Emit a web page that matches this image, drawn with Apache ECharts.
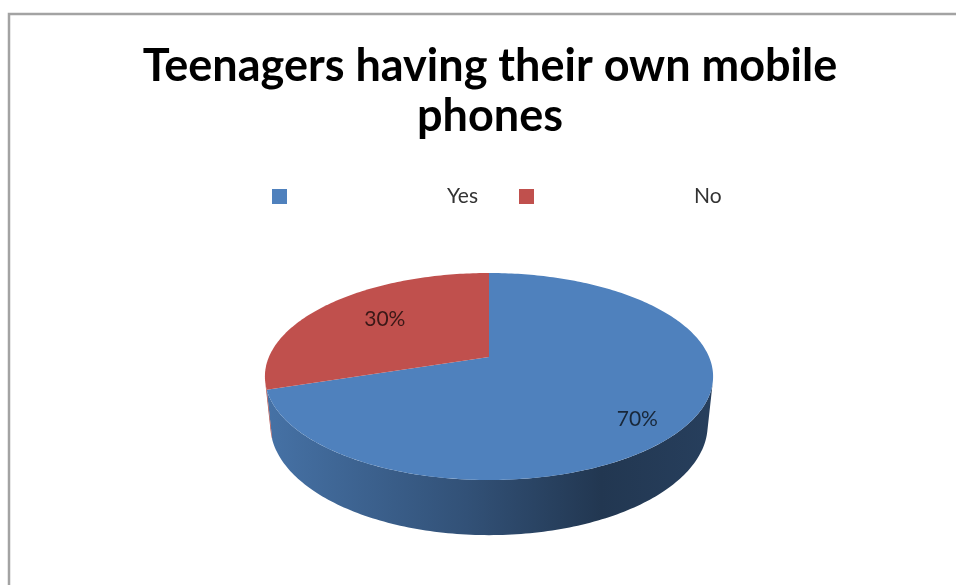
<!DOCTYPE html>
<html>
<head>
<meta charset="utf-8">
<script src="https://cdn.jsdelivr.net/npm/echarts@6/dist/echarts.min.js"></script>
<style>
    html, body { margin: 0; padding: 0; background: #fff; }
    #main { width: 956px; height: 585px; }
</style>
</head>
<body>
<div id="main"></div>
<script>
// 数据
const categories = ['Yes', 'No'];
const shares = [70, 30];
const sliceColors = ['#4f81bd', '#c0504d'];

// 3D 饼图的简单透视投影参数
const cam = { cx: 489, cy: 357, f: 1041, d: 4.73, s: 0.4536, c: 0.891, h: 0.25 };
const labelNudge = [[9, 16], [-4, -5]];

function project(x, y, z) {
    const v = z * cam.s + y * cam.c;
    const d = cam.d + z * cam.c - y * cam.s;
    return [cam.cx + cam.f * x / d, cam.cy - cam.f * v / d];
}

function rim(a, y) {
    const r = a * Math.PI / 180;
    return project(Math.sin(r), y, Math.cos(r));
}

function shade(hex, k) {
    const n = parseInt(hex.slice(1), 16);
    const r = Math.round(((n >> 16) & 255) * k);
    const g = Math.round(((n >> 8) & 255) * k);
    const b = Math.round((n & 255) * k);
    return 'rgb(' + r + ',' + g + ',' + b + ')';
}

const total = shares.reduce((a, b) => a + b, 0);
// 侧面可见的角度范围（朝向相机的部分）
const sideLimit = Math.acos(-1 / (cam.d * cam.c)) * 180 / Math.PI;

let myChart = echarts.init(document.getElementById('main'));

myChart.setOption({
    animation: false,
    backgroundColor: '#fff',
    title: {
        text: 'Teenagers having their own mobile\nphones',
        left: 485,
        top: 36,
        textAlign: 'center',
        textStyle: {
            fontFamily: 'Lato',
            fontWeight: 'bold',
            fontSize: 45,
            lineHeight: 50,
            color: '#000'
        }
    },
    legend: {
        data: categories,
        left: 267,
        top: 181,
        itemWidth: 15,
        itemHeight: 15,
        itemGap: 41,
        icon: 'rect',
        selectedMode: false,
        textStyle: {
            fontFamily: 'Lato',
            fontSize: 21,
            color: '#333',
            padding: [0, 0, 0, 155]
        }
    },
    graphic: [{
        type: 'rect',
        shape: { x: 9, y: 14, width: 1000, height: 620 },
        style: { fill: 'none', stroke: '#a3a3a3', lineWidth: 2.5 },
        silent: true
    }],
    series: [{
        // 只给图例提供颜色
        type: 'pie',
        name: 'legendHelper',
        radius: 0,
        center: [-200, -200],
        silent: true,
        label: { show: false },
        labelLine: { show: false },
        data: categories.map((n, i) => ({ name: n, value: shares[i], itemStyle: { color: sliceColors[i] } }))
    }, {
        type: 'custom',
        coordinateSystem: 'none',
        silent: true,
        data: shares.map((v, i) => ({ name: categories[i], value: v })),
        renderItem: function (params, api) {
            const i = params.dataIndex;
            let before = 0;
            for (let k = 0; k < i; k++) before += shares[k];
            const a0 = before / total * 360;
            const a1 = (before + api.value(0)) / total * 360;
            const color = sliceColors[i];
            const children = [];

            // 侧面（只画朝前的部分）
            const s0 = Math.max(a0, sideLimit), s1 = Math.min(a1, 360 - sideLimit);
            if (s1 > s0) {
                const pts = [];
                for (let a = s0; a <= s1; a += 1) pts.push(rim(a, 0));
                pts.push(rim(s1, 0));
                pts.push(rim(s1, -cam.h));
                for (let a = s1; a >= s0; a -= 1) pts.push(rim(a, -cam.h));
                pts.push(rim(s0, -cam.h));
                children.push({
                    type: 'polygon',
                    z2: 1,
                    shape: { points: pts },
                    style: {
                        fill: new echarts.graphic.LinearGradient(265, 0, 713, 0, [
                            { offset: 0, color: shade(color, 0.88) },
                            { offset: 0.45, color: shade(color, 0.63) },
                            { offset: 0.75, color: shade(color, 0.43) },
                            { offset: 1, color: shade(color, 0.49) }
                        ], true)
                    }
                });
            }

            // 顶面
            const top = [project(0, 0, 0)];
            for (let a = a0; a <= a1; a += 1) top.push(rim(a, 0));
            top.push(rim(a1, 0));
            children.push({
                type: 'polygon',
                z2: 10,
                shape: { points: top },
                style: { fill: color }
            });

            // 百分比标签
            const mid = (a0 + a1) / 2 * Math.PI / 180;
            const rr = i === 0 ? 0.72 : 0.6;
            const p = project(rr * Math.sin(mid), 0, rr * Math.cos(mid));
            children.push({
                type: 'text',
                z2: 20,
                style: {
                    text: Math.round(api.value(0) / total * 100) + '%',
                    x: p[0] + labelNudge[i][0],
                    y: p[1] + labelNudge[i][1],
                    align: 'center',
                    verticalAlign: 'middle',
                    font: '21px Lato',
                    fill: shade(color, 0.3)
                }
            });

            return { type: 'group', children: children };
        }
    }]
});
</script>
</body>
</html>
